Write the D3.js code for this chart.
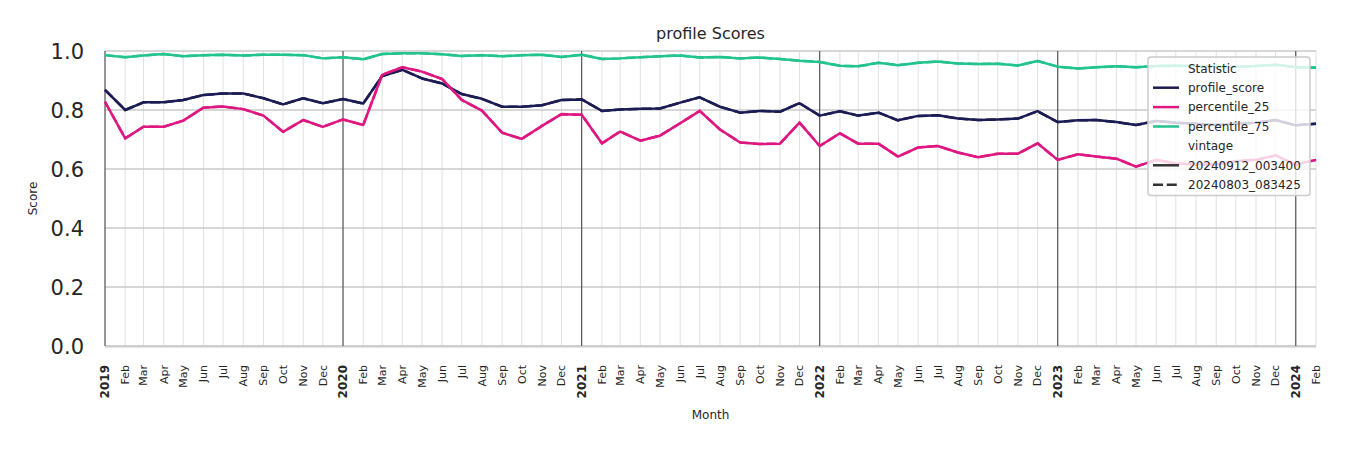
<!DOCTYPE html>
<html>
<head>
<meta charset="utf-8">
<script src="https://cdn.jsdelivr.net/npm/d3@7"></script>
<style>
  body { margin: 0; background: #fff; }
  svg { display: block; font-family: 'DejaVu Sans', sans-serif; }
</style>
</head>
<body>
<div id="chart"></div>
<script>
// Data
const months = [
  '2019-01', '2019-02', '2019-03', '2019-04', '2019-05', '2019-06', '2019-07', '2019-08', '2019-09', '2019-10', '2019-11', '2019-12',
  '2020-01', '2020-02', '2020-03', '2020-04', '2020-05', '2020-06', '2020-07', '2020-08', '2020-09', '2020-10', '2020-11', '2020-12',
  '2021-01', '2021-02', '2021-03', '2021-04', '2021-05', '2021-06', '2021-07', '2021-08', '2021-09', '2021-10', '2021-11', '2021-12',
  '2022-01', '2022-02', '2022-03', '2022-04', '2022-05', '2022-06', '2022-07', '2022-08', '2022-09', '2022-10', '2022-11', '2022-12',
  '2023-01', '2023-02', '2023-03', '2023-04', '2023-05', '2023-06', '2023-07', '2023-08', '2023-09', '2023-10', '2023-11', '2023-12',
  '2024-01', '2024-02',
];

const profileScore = [
  0.868, 0.800, 0.826, 0.826, 0.834, 0.851, 0.856, 0.856, 0.840, 0.819, 0.840, 0.823,
  0.837, 0.822, 0.915, 0.936, 0.907, 0.890, 0.854, 0.838, 0.811, 0.811, 0.816, 0.834,
  0.836, 0.797, 0.802, 0.804, 0.805, 0.825, 0.843, 0.811, 0.791, 0.797, 0.794, 0.823,
  0.781, 0.796, 0.781, 0.791, 0.765, 0.780, 0.782, 0.771, 0.766, 0.768, 0.771, 0.796,
  0.759, 0.765, 0.766, 0.759, 0.749, 0.763, 0.757, 0.753, 0.749, 0.753, 0.757, 0.766,
  0.748, 0.753,
];

const percentile25 = [
  0.828, 0.704, 0.743, 0.743, 0.764, 0.808, 0.812, 0.803, 0.781, 0.726, 0.766, 0.743,
  0.768, 0.749, 0.919, 0.945, 0.930, 0.905, 0.834, 0.798, 0.723, 0.702, 0.746, 0.786,
  0.784, 0.687, 0.727, 0.696, 0.713, 0.755, 0.797, 0.734, 0.690, 0.685, 0.686, 0.757,
  0.678, 0.721, 0.686, 0.686, 0.642, 0.673, 0.678, 0.656, 0.640, 0.652, 0.652, 0.687,
  0.631, 0.650, 0.642, 0.635, 0.608, 0.631, 0.619, 0.616, 0.615, 0.626, 0.631, 0.646,
  0.615, 0.631,
];

const percentile75 = [
  0.986, 0.979, 0.985, 0.990, 0.982, 0.986, 0.987, 0.985, 0.987, 0.987, 0.986, 0.975,
  0.979, 0.972, 0.990, 0.992, 0.992, 0.989, 0.983, 0.986, 0.982, 0.986, 0.987, 0.980,
  0.987, 0.973, 0.975, 0.979, 0.982, 0.985, 0.978, 0.980, 0.975, 0.978, 0.973, 0.967,
  0.963, 0.950, 0.948, 0.960, 0.952, 0.960, 0.964, 0.958, 0.956, 0.957, 0.951, 0.966,
  0.947, 0.941, 0.945, 0.948, 0.945, 0.949, 0.950, 0.949, 0.947, 0.947, 0.949, 0.953,
  0.945, 0.944,
];

const statistics = ['profile_score', 'percentile_25', 'percentile_75'];
const vintages = ['20240912_003400', '20240803_083425'];
const yTicks = [0, 0.2, 0.4, 0.6, 0.8, 1.0];

const color = ['#1c1c54', '#de1781', '#22c38e'];

const width = 1350;
const height = 450;
const margin = { t: 51, r: 34, b: 104, l: 105 };

const parse = d3.timeParse('%Y-%m');
const dates = months.map(parse);
const series = [profileScore, percentile25, percentile75];

const svg = d3
  .select('#chart')
  .append('svg')
  .attr('width', width)
  .attr('height', height);

const x = d3
  .scaleTime()
  .domain(d3.extent(dates))
  .range([margin.l, width - margin.r]);

const y = d3
  .scaleLinear()
  .domain([0, 1])
  .range([height - margin.b, margin.t]);

// month grid
svg
  .append('g')
  .selectAll('line')
  .data(dates)
  .join('line')
  .attr('x1', (d) => x(d))
  .attr('x2', (d) => x(d))
  .attr('y1', y(0))
  .attr('y2', y(1))
  .attr('stroke', '#dedede')
  .attr('stroke-width', 0.9);

// score grid
svg
  .append('g')
  .selectAll('line')
  .data(yTicks)
  .join('line')
  .attr('x1', x.range()[0])
  .attr('x2', x.range()[1])
  .attr('y1', (d) => y(d))
  .attr('y2', (d) => y(d))
  .attr('stroke', '#cacaca')
  .attr('stroke-width', 1.5);

// bottom spine
svg
  .append('line')
  .attr('x1', x.range()[0])
  .attr('x2', x.range()[1])
  .attr('y1', y(0) + 0.5)
  .attr('y2', y(0) + 0.5)
  .attr('stroke', '#cccccc')
  .attr('stroke-width', 2);

// year separators
const yearStarts = dates.filter((d) => d.getMonth() === 0);
svg
  .append('g')
  .selectAll('line')
  .data(yearStarts)
  .join('line')
  .attr('x1', (d) => x(d))
  .attr('x2', (d) => x(d))
  .attr('y1', y(0))
  .attr('y2', y(1))
  .attr('stroke', '#3a3a3a')
  .attr('stroke-width', 1);

// lines
const line = d3
  .line()
  .x((d, i) => x(dates[i]))
  .y((d) => y(d));

// older vintage sits under the newer one
series.forEach((s, i) => {
  svg
    .append('path')
    .datum(s)
    .attr('fill', 'none')
    .attr('stroke', color[i])
    .attr('stroke-width', 2.5)
    .attr('stroke-dasharray', '10,3.75')
    .attr('d', line);
});

series.forEach((s, i) => {
  svg
    .append('path')
    .datum(s)
    .attr('fill', 'none')
    .attr('stroke', color[i])
    .attr('stroke-width', 2.5)
    .attr('stroke-linejoin', 'round')
    .attr('d', line);
});

// y tick labels
svg
  .append('g')
  .selectAll('text')
  .data(yTicks)
  .join('text')
  .attr('x', 84)
  .attr('y', (d) => y(d))
  .attr('dy', '0.36em')
  .attr('text-anchor', 'end')
  .attr('fill', '#262626')
  .style('font-size', '21px')
  .text((d) => d.toFixed(1));

// x tick labels
const fmtMonth = d3.timeFormat('%b');
svg
  .append('g')
  .selectAll('text')
  .data(dates)
  .join('text')
  .attr('transform', (d) => `translate(${x(d)},${y(0) + 19}) rotate(-90)`)
  .attr('dy', '0.35em')
  .attr('text-anchor', 'end')
  .attr('fill', '#262626')
  .style('font-size', (d) => (d.getMonth() === 0 ? '12px' : '11px'))
  .style('font-weight', (d) => (d.getMonth() === 0 ? 'bold' : 'normal'))
  .text((d) => (d.getMonth() === 0 ? d.getFullYear() : fmtMonth(d)));

// titles
svg
  .append('text')
  .attr('x', (x.range()[0] + x.range()[1]) / 2)
  .attr('y', 39)
  .attr('text-anchor', 'middle')
  .attr('fill', '#262626')
  .style('font-size', '16px')
  .text('profile Scores');

svg
  .append('text')
  .attr('x', (x.range()[0] + x.range()[1]) / 2)
  .attr('y', 419)
  .attr('text-anchor', 'middle')
  .attr('fill', '#262626')
  .style('font-size', '12px')
  .text('Month');

svg
  .append('text')
  .attr('transform', `translate(37,${(y(0) + y(1)) / 2}) rotate(-90)`)
  .attr('text-anchor', 'middle')
  .attr('fill', '#262626')
  .style('font-size', '12px')
  .text('Score');

// legend
const legendItems = [
  { label: 'Statistic' },
  ...statistics.map((s, i) => ({ label: s, stroke: color[i] })),
  { label: 'vintage' },
  { label: vintages[0], stroke: '#333333' },
  { label: vintages[1], stroke: '#333333', dash: '10,3.75' },
];

const legend = svg.append('g').attr('class', 'legend');

legend
  .append('rect')
  .attr('x', 1148)
  .attr('y', 57)
  .attr('width', 162)
  .attr('height', 138.5)
  .attr('rx', 3)
  .attr('ry', 3)
  .attr('fill', 'white')
  .attr('fill-opacity', 0.8)
  .attr('stroke', '#cccccc')
  .attr('stroke-width', 1.5);

const row = legend
  .selectAll('g.item')
  .data(legendItems)
  .join('g')
  .attr('class', 'item')
  .attr('transform', (d, i) => `translate(0,${68.3 + i * 19.4})`);

row
  .filter((d) => d.stroke)
  .append('line')
  .attr('x1', 1153)
  .attr('x2', 1179)
  .attr('stroke', (d) => d.stroke)
  .attr('stroke-width', 2.5)
  .attr('stroke-dasharray', (d) => d.dash || null);

row
  .append('text')
  .attr('x', 1188)
  .attr('dy', '0.36em')
  .attr('fill', '#262626')
  .style('font-size', '12px')
  .text((d) => d.label);
</script>
</body>
</html>
